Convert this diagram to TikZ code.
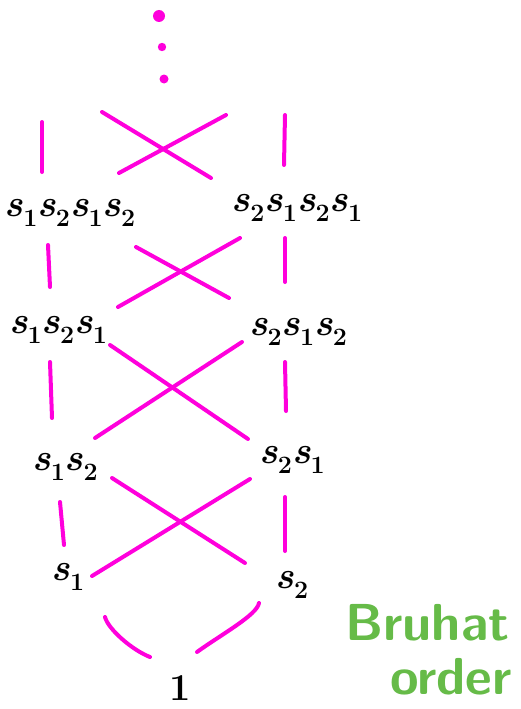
\documentclass[tikz,border=0pt]{standalone}
\usetikzlibrary{calc}
\definecolor{mag}{RGB}{255,0,220}
\definecolor{grn}{RGB}{102,187,72}
\newcommand\sgen[1]{\textit{s}\raisebox{-0.28em}{\fontsize{25}{25}\selectfont #1}}
\tikzset{
  elt/.style={inner sep=0pt, font=\fontsize{38}{38}\selectfont\bfseries},
  edge/.style={draw=mag, line width=4pt, line cap=round},
  note/.style={inner sep=0pt, text=grn, font=\fontsize{52}{52}\selectfont\sffamily\bfseries}
}
\begin{document}
\begin{tikzpicture}[x=1pt,y=-1pt]
\useasboundingbox (0,0) rectangle (520,709);
% elements
\node[elt] (A4) at (70,213) {\sgen{1}\sgen{2}\sgen{1}\sgen{2}};
\node[elt] (B4) at (297,208) {\sgen{2}\sgen{1}\sgen{2}\sgen{1}};
\node[elt] (A3) at (58,330) {\sgen{1}\sgen{2}\sgen{1}};
\node[elt] (B3) at (298,332) {\sgen{2}\sgen{1}\sgen{2}};
\node[elt] (A2) at (65,467) {\sgen{1}\sgen{2}};
\node[elt] (B2) at (292,460) {\sgen{2}\sgen{1}};
\node[elt] (A1) at (68,577) {\sgen{1}};
\node[elt] (B1) at (292,585) {\sgen{2}};
\node[elt] (E) at (180,688) {1};
% dots
\fill[mag] (159,16) circle (6);
\fill[mag] (162,47) circle (4.2);
\fill[mag] (164,79) circle (4.5);
% top edges
\coordinate (TL) at (102,112);
\coordinate (TR) at (226,115);
\draw[edge] ($(A4)+(-28,-91)$) -- ($(A4)+(-28,-41)$);
\draw[edge] ($(B4)+(-12,-93)$) -- ($(B4)+(-13,-43)$);
\draw[edge] (TL) -- ($(B4)+(-86,-30)$);
\draw[edge] (TR) -- ($(A4)+(49,-40)$);
% rank 4 - 3
\draw[edge] ($(A4)+(-22,32)$) -- ($(A3)+(-8,-43)$);
\draw[edge] ($(B4)+(-12,30)$) -- ($(B3)+(-13,-50)$);
\draw[edge] ($(A4)+(66,34)$) -- ($(B3)+(-69,-34)$);
\draw[edge] ($(B4)+(-57,30)$) -- ($(A3)+(60,-23)$);
% rank 3 - 2
\draw[edge] ($(A3)+(-8,32)$) -- ($(A2)+(-13,-49)$);
\draw[edge] ($(B3)+(-13,30)$) -- ($(B2)+(-6,-49)$);
\draw[edge] ($(A3)+(52,15)$) -- ($(B2)+(-44,-21)$);
\draw[edge] ($(B3)+(-56,10)$) -- ($(A2)+(30,-29)$);
% rank 2 - 1
\draw[edge] ($(A2)+(-5,35)$) -- ($(A1)+(-4,-32)$);
\draw[edge] ($(B2)+(-7,37)$) -- ($(B1)+(-7,-34)$);
\draw[edge] ($(A2)+(47,11)$) -- ($(B1)+(-47,-22)$);
\draw[edge] ($(B2)+(-42,19)$) -- ($(A1)+(24,-1)$);
% rank 1 - 0
\draw[edge] ($(A1)+(37,40)$) .. controls +(3,12) and +(-18,-7) .. ($(E)+(-30,-31)$);
\draw[edge] ($(B1)+(-33,18)$) .. controls +(-2,12) and +(25,-18) .. ($(E)+(17,-36)$);
% note
\node[note, anchor=base west] (n1) at (345,640) {Bruhat};
\node[note, anchor=base west] (n2) at (390,694) {order};
\end{tikzpicture}
\end{document}
